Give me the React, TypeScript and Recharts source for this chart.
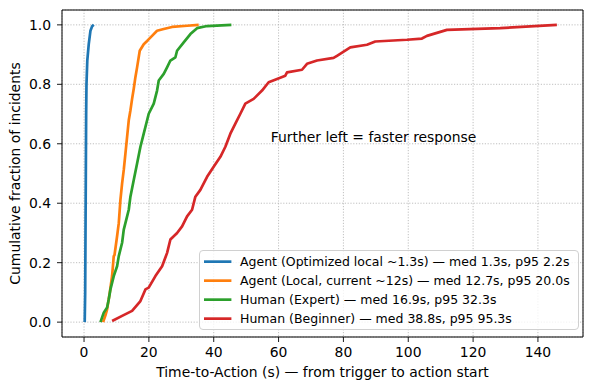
import React from 'react';
import {
  LineChart,
  Line,
  XAxis,
  YAxis,
  CartesianGrid,
  Legend,
  ReferenceDot,
  ReferenceArea,
  Label,
} from 'recharts';

// ---- Data ----
const agentOptX = [0.2, 0.35, 0.45, 0.55, 0.65, 0.75, 1.0, 1.45, 1.97, 2.5, 3.0];
const agentOptY = [0.0, 0.1, 0.3, 0.5, 0.7, 0.8, 0.88, 0.935, 0.98, 0.995, 1.0];

const agentLocalX = [5.88, 6.6, 7.11, 7.93, 8.65, 9.16, 9.4, 10.19, 10.71, 11.22, 11.74, 12.25, 12.76, 13.28, 13.79, 14.3, 14.82, 15.33, 15.84, 16.36, 17.18, 18.41, 19.45, 20.98, 22.52, 24.57, 27.15, 31.77, 35.36];
const agentLocalY = [0.0, 0.023, 0.043, 0.099, 0.155, 0.222, 0.226, 0.289, 0.333, 0.411, 0.467, 0.512, 0.567, 0.623, 0.679, 0.712, 0.751, 0.785, 0.824, 0.857, 0.913, 0.935, 0.946, 0.963, 0.98, 0.986, 0.993, 0.997, 1.0];

const humanExpertX = [5.06, 5.57, 6.08, 7.11, 7.62, 8.14, 9.16, 10.19, 10.71, 11.74, 12.25, 13.28, 13.79, 14.3, 15.33, 16.36, 17.39, 18.41, 19.45, 19.95, 21.5, 22.52, 23.04, 24.58, 25.61, 26.63, 28.18, 28.69, 30.74, 32.8, 34.86, 37.94, 45.44];
const humanExpertY = [0.0, 0.016, 0.032, 0.049, 0.077, 0.11, 0.155, 0.188, 0.222, 0.267, 0.311, 0.356, 0.378, 0.422, 0.478, 0.534, 0.59, 0.634, 0.679, 0.701, 0.735, 0.779, 0.813, 0.835, 0.857, 0.88, 0.891, 0.913, 0.941, 0.969, 0.989, 0.996, 1.0];

const humanBeginnerX = [8.65, 11.74, 14.82, 17.39, 18.93, 19.94, 22.01, 24.08, 25.62, 26.63, 28.7, 30.24, 31.78, 33.32, 34.34, 35.88, 37.95, 39.98, 42.05, 43.59, 45.13, 46.67, 48.21, 49.75, 52.31, 54.9, 56.94, 59.53, 62.08, 62.61, 67.23, 68.77, 71.86, 76.97, 78.02, 82.12, 87.27, 89.83, 99.6, 104.22, 105.76, 111.93, 128.36, 145.84];
const humanBeginnerY = [0.004, 0.021, 0.038, 0.071, 0.11, 0.116, 0.155, 0.188, 0.233, 0.278, 0.3, 0.322, 0.356, 0.378, 0.422, 0.445, 0.489, 0.523, 0.556, 0.59, 0.634, 0.668, 0.701, 0.735, 0.751, 0.779, 0.807, 0.818, 0.829, 0.84, 0.849, 0.869, 0.88, 0.889, 0.896, 0.924, 0.933, 0.944, 0.95, 0.954, 0.963, 0.983, 0.989, 1.0];

const seriesNames = [
  'Agent (Optimized local ~1.3s) — med 1.3s, p95 2.2s',
  'Agent (Local, current ~12s) — med 12.7s, p95 20.0s',
  'Human (Expert) — med 16.9s, p95 32.3s',
  'Human (Beginner) — med 38.8s, p95 95.3s',
];
const seriesColors = ['#1f77b4', '#ff7f0e', '#2ca02c', '#d62728'];

const xTicks = [0, 20, 40, 60, 80, 100, 120, 140];
const yTicks = [0, 0.2, 0.4, 0.6, 0.8, 1.0];

const X_MIN = -6.8;
const X_MAX = 153.9;
const Y_MIN = -0.05;
const Y_MAX = 1.05;

const annotationText = 'Further left = faster response';
const annotationX = 57.6;
const annotationY = 0.605;

const xLabel = 'Time-to-Action (s) — from trigger to action start';
const yLabel = 'Cumulative fraction of incidents';

const toPoints = (xs: number[], ys: number[]) => xs.map((x, i) => ({ x, y: ys[i] }));
const seriesData = [
  toPoints(agentOptX, agentOptY),
  toPoints(agentLocalX, agentLocalY),
  toPoints(humanExpertX, humanExpertY),
  toPoints(humanBeginnerX, humanBeginnerY),
];

const FONT = '"DejaVu Sans", sans-serif';

const LegendBox = () => (
  <div
    style={{
      position: 'relative',
      width: 380,
      height: 80,
      boxSizing: 'border-box',
      border: '1px solid #d0d0d0',
      borderRadius: 4,
      background: 'rgba(255,255,255,0.8)',
      fontFamily: FONT,
      fontSize: 12.5,
      color: '#000',
    }}
  >
    {seriesNames.map((name, i) => (
      <div
        key={name}
        style={{
          position: 'absolute',
          left: 0,
          top: 0.5 + i * 19.3,
          height: 19.3,
          lineHeight: '19.3px',
          whiteSpace: 'nowrap',
        }}
      >
        <svg width={34} height={19.3} style={{ position: 'absolute', left: 0, top: 0 }}>
          <line x1={4} x2={31.4} y1={9.65} y2={9.65} stroke={seriesColors[i]} strokeWidth={2.7} />
        </svg>
        <span style={{ position: 'absolute', left: 40, top: 0 }}>{name}</span>
      </div>
    ))}
  </div>
);

export default function App() {
  return (
    <div style={{ position: 'absolute', left: 0, top: 0, width: 590, height: 390, background: '#fff' }}>
      <LineChart width={590} height={390} margin={{ top: 10, right: 7, bottom: 0, left: 0 }}>
        <CartesianGrid stroke="#b0b0b0" strokeWidth={0.8} strokeDasharray="1.2 1.6" />
        <XAxis
          type="number"
          dataKey="x"
          domain={[X_MIN, X_MAX]}
          ticks={xTicks}
          allowDataOverflow
          height={53}
          axisLine={false}
          tickLine={{ stroke: '#000', strokeWidth: 0.9 }}
          tickSize={5}
          tickMargin={5}
          tick={{ fill: '#000', fontSize: 13.9, fontFamily: FONT }}
          interval={0}
        >
          <Label
            content={(props: any) => {
              const vb = props.viewBox || {};
              return (
                <text
                  x={vb.x + vb.width / 2}
                  y={377}
                  textAnchor="middle"
                  fontSize={13.9}
                  fontFamily={FONT}
                  fill="#000"
                >
                  {xLabel}
                </text>
              );
            }}
          />
        </XAxis>
        <YAxis
          type="number"
          dataKey="y"
          domain={[Y_MIN, Y_MAX]}
          ticks={yTicks}
          allowDataOverflow
          width={62}
          axisLine={false}
          tickLine={{ stroke: '#000', strokeWidth: 0.9 }}
          tickSize={5}
          tickMargin={6}
          tickFormatter={(v: number) => v.toFixed(1)}
          tick={{ fill: '#000', fontSize: 13.9, fontFamily: FONT }}
          interval={0}
        >
          <Label
            content={(props: any) => {
              const vb = props.viewBox || {};
              const cy = vb.y + vb.height / 2;
              return (
                <text
                  x={19.5}
                  y={cy}
                  transform={`rotate(-90 19.5 ${cy})`}
                  textAnchor="middle"
                  fontSize={13.9}
                  fontFamily={FONT}
                  fill="#000"
                >
                  {yLabel}
                </text>
              );
            }}
          />
        </YAxis>
        {seriesData.map((d, i) => (
          <Line
            key={seriesNames[i]}
            data={d}
            dataKey="y"
            name={seriesNames[i]}
            type="linear"
            stroke={seriesColors[i]}
            strokeWidth={2.7}
            strokeLinejoin="round"
            dot={false}
            activeDot={false}
            isAnimationActive={false}
          />
        ))}
        <ReferenceDot
          x={annotationX}
          y={annotationY}
          r={0}
          ifOverflow="visible"
          shape={(p: any) => (
            <text x={p.cx} y={p.cy} textAnchor="start" fontSize={13.9} fontFamily={FONT} fill="#000">
              {annotationText}
            </text>
          )}
        />
        <ReferenceArea
          x1={X_MIN}
          x2={X_MAX}
          y1={Y_MIN}
          y2={Y_MAX}
          fill="none"
          fillOpacity={0}
          stroke="#000"
          strokeWidth={1}
          ifOverflow="visible"
        />
        <Legend
          layout="vertical"
          align="center"
          verticalAlign="middle"
          content={() => <LegendBox />}
          wrapperStyle={{ left: 199, top: 250, width: 380, height: 80 }}
        />
      </LineChart>
    </div>
  );
}
